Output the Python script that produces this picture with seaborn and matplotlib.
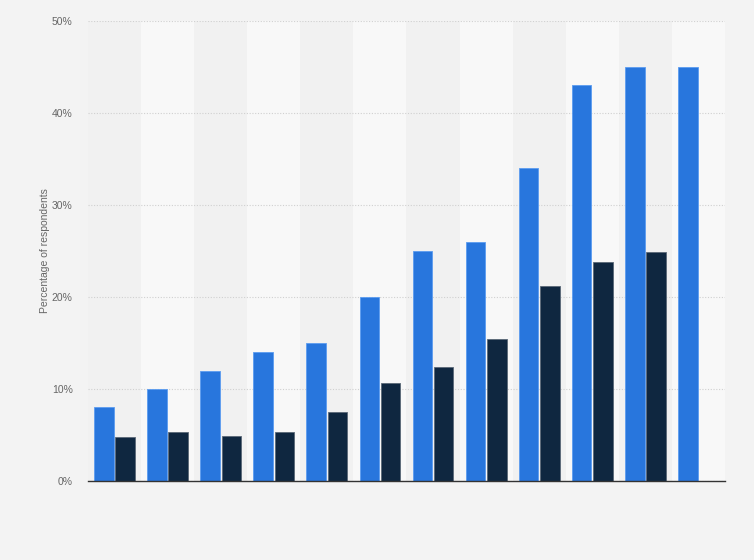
import numpy as np
import pandas as pd
import matplotlib
matplotlib.use("Agg")
import matplotlib.pyplot as plt
import seaborn as sns
from matplotlib.ticker import FuncFormatter

categories = ["G1", "G2", "G3", "G4", "G5", "G6", "G7", "G8", "G9", "G10", "G11", "G12"]
series_a = [8, 10, 12, 14, 15, 20, 25, 26, 34, 43, 45, 45]
series_b = [4.8, 5.35, 4.9, 5.35, 7.5, 10.6, 12.4, 15.4, 21.2, 23.8, 24.9, np.nan]
series_names = ["Series A", "Series B"]
y_ticks = [0, 10, 20, 30, 40, 50]

df = pd.DataFrame({
    "category": categories * 2,
    "value": series_a + series_b,
    "series": [series_names[0]] * len(categories) + [series_names[1]] * len(categories),
})

sns.set_theme(style="white")
plt.rcParams["font.family"] = ["Liberation Sans", "DejaVu Sans"]

fig = plt.figure(figsize=(7.54, 5.6), dpi=100)
fig.patch.set_facecolor("#f3f3f3")
ax = fig.add_axes([88 / 754, 79 / 560, 637 / 754, 460 / 560])
ax.set_facecolor("#f1f1f1")

# alternating column bands
for i in range(len(categories)):
    if i % 2 == 1:
        ax.axvspan(i - 0.5, i + 0.5, facecolor="#f8f8f8", edgecolor="none", zorder=0, lw=0)

sns.barplot(data=df, x="category", y="value", hue="series", order=categories,
            hue_order=series_names, palette=["#2876dd", "#0f2740"], saturation=1,
            width=0.8, gap=0.08, ax=ax, legend=False, zorder=3, err_kws={"linewidth": 0})

edge_cols = ["#5b9cf0", "#5a6877"]
for cont, ec in zip(ax.containers, edge_cols):
    for patch in cont:
        patch.set_edgecolor(ec)
        patch.set_linewidth(0.6)

ax.set_xlim(-0.5, len(categories) - 0.5)
ax.set_ylim(0, 50)
ax.set_yticks(y_ticks)
ax.yaxis.set_major_formatter(FuncFormatter(lambda v, p: f"{int(v)}%"))
ax.grid(axis="y", color="#d0d0d0", linestyle=(0, (1, 1.5)), linewidth=0.8, zorder=1)
ax.set_axisbelow(True)
ax.set_xticks([])
ax.set_xlabel("")
ax.set_ylabel("Percentage of respondents", fontsize=7.5, color="#666666", labelpad=1)
ax.tick_params(axis="y", length=0, pad=11, labelsize=7.5, labelcolor="#666666")
for s in ["top", "right", "left"]:
    ax.spines[s].set_visible(False)
ax.spines["bottom"].set_color("#333333")
ax.spines["bottom"].set_linewidth(1.0)
ax.spines["bottom"].set_zorder(5)

fig.savefig("out.png", dpi=100, facecolor=fig.get_facecolor())
